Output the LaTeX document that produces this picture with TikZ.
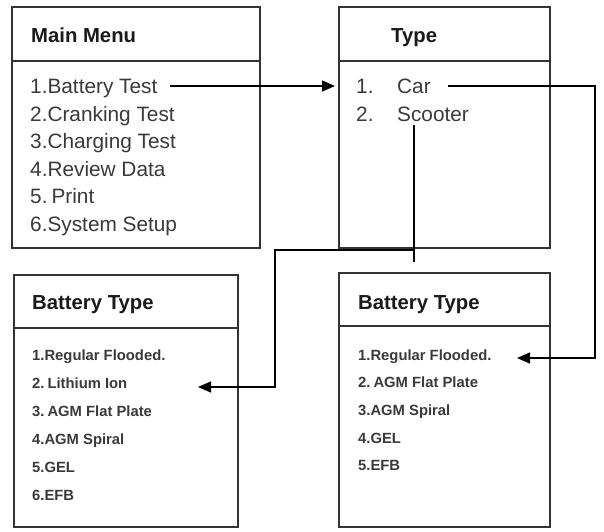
\documentclass[tikz,border=0pt]{standalone}
\usepackage{fontspec}
\setmainfont{Liberation Sans}
\usetikzlibrary{arrows.meta}
\definecolor{boxline}{HTML}{333333}
\definecolor{itemtext}{HTML}{3A3A3A}
\definecolor{titletext}{HTML}{1A1A1A}
\begin{document}
\begin{tikzpicture}[x=1pt,y=-1pt,
  panel/.style={draw=boxline,line width=1.5pt,inner sep=0pt,fill=none},
  divider/.style={draw=boxline,line width=1.4pt},
  title/.style={anchor=west,inner sep=0pt,text height=14.6pt,text depth=0pt,text=titletext,font=\fontsize{20.3}{22}\selectfont\bfseries},
  bigitem/.style={anchor=west,inner sep=0pt,text height=14.9pt,text depth=0pt,text=itemtext,font=\fontsize{20.8}{23}\selectfont},
  smallitem/.style={anchor=west,inner sep=0pt,text height=10.6pt,text depth=0pt,text=itemtext,font=\fontsize{14.8}{17}\selectfont\bfseries},
  conn/.style={draw=black,line width=1.4pt},
  arr/.style={conn,-{Triangle[length=13pt,width=11pt]}}]
\useasboundingbox (0,0) rectangle (604,531);
\fill[white] (0,0) rectangle (604,531);

% boxes
\node[panel,minimum width=248pt,minimum height=241pt] (mm) at (136,127.5) {};
\node[panel,minimum width=211pt,minimum height=241pt] (tp) at (444.5,127.5) {};
\node[panel,minimum width=224pt,minimum height=252pt] (bl) at (126,401) {};
\node[panel,minimum width=211pt,minimum height=254pt] (br) at (444.5,400) {};

% dividers
\draw[divider] (mm.west |- 0,61) -- (mm.east |- 0,61);
\draw[divider] (tp.west |- 0,61) -- (tp.east |- 0,61);
\draw[divider] (bl.west |- 0,328) -- (bl.east |- 0,328);
\draw[divider] (br.west |- 0,326) -- (br.east |- 0,326);

% titles
\node[title] (mmt) at (31,35.3) {Main Menu};
\node[title] (tpt) at (391,35.5) {Type};
\node[title] (blt) at (32,302.5) {Battery Type};
\node[title] (brt) at (358,301.8) {Battery Type};

% main menu items
\node[bigitem] (m1) at (30,86) {1.Battery Test};
\node[bigitem] (m2) at (30,113.6) {2.Cranking Test};
\node[bigitem] (m3) at (30,141.2) {3.Charging Test};
\node[bigitem] (m4) at (30,168.8) {4.Review Data};
\node[bigitem] (m5) at (30,196.4) {5.\hspace{4pt}Print};
\node[bigitem] (m6) at (30,224) {6.System Setup};

% type items
\node[bigitem] (t1n) at (356,86) {1.};
\node[bigitem] (t1) at (397,86) {Car};
\node[bigitem] (t2n) at (356,113.6) {2.};
\node[bigitem] (t2) at (397,113.6) {Scooter};

% left battery type
\node[smallitem] (l1) at (32,355) {1.Regular Flooded.};
\node[smallitem] (l2) at (32,383) {2.\hspace{3pt}Lithium Ion};
\node[smallitem] (l3) at (32,411) {3.\hspace{3pt}AGM Flat Plate};
\node[smallitem] (l4) at (32,439) {4.AGM Spiral};
\node[smallitem] (l5) at (32,467) {5.GEL};
\node[smallitem] (l6) at (32,495) {6.EFB};

% right battery type
\node[smallitem] (r1) at (358,354.7) {1.Regular Flooded.};
\node[smallitem] (r2) at (358,382.4) {2.\hspace{3pt}AGM Flat Plate};
\node[smallitem] (r3) at (358,410) {3.AGM Spiral};
\node[smallitem] (r4) at (358,437.8) {4.GEL};
\node[smallitem] (r5) at (358,465.5) {5.EFB};

% connector coordinates
\coordinate (btstart) at (170,86);
\coordinate (typetip) at (335,86);
\coordinate (carstart) at (448,86);
\coordinate (carcorner) at (595,358);
\coordinate (rftip) at (517,358);
\coordinate (scstart) at (414,125);
\coordinate (scend) at (414,262);
\coordinate (scjoin) at (414,250);
\coordinate (sccorner) at (275,387);
\coordinate (litip) at (198,387);

% connectors
\draw[arr] (btstart) -- (typetip);
\draw[arr] (carstart) -| (carcorner) -- (rftip);
\draw[conn] (scstart) -- (scend);
\draw[arr] (scjoin) -| (sccorner) -- (litip);
\end{tikzpicture}
\end{document}
